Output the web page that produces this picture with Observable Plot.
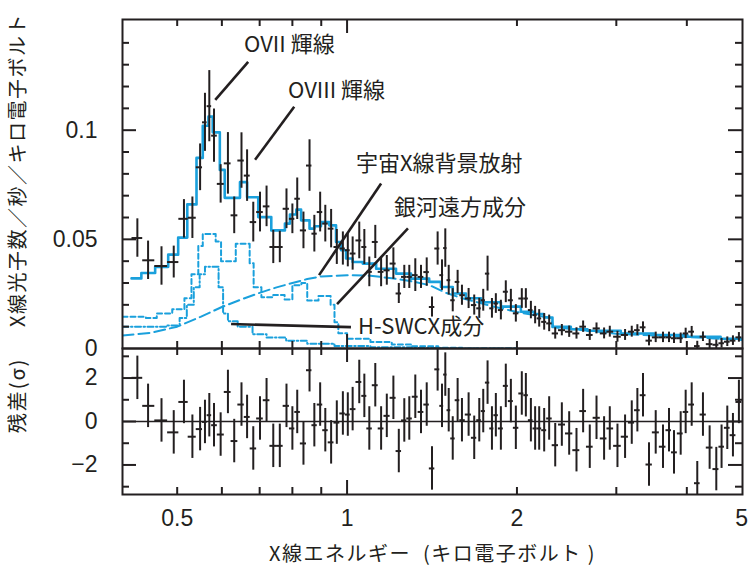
<!DOCTYPE html>
<html><head><meta charset="utf-8">
<script src="https://cdn.jsdelivr.net/npm/d3@7"></script>
<script src="https://cdn.jsdelivr.net/npm/@observablehq/plot@0.6"></script>
<style>
body{margin:0;background:#fff}
#chart{width:751px;height:573px;overflow:hidden;background:#fff}
#chart svg{display:block}
</style></head><body><div id="chart"></div>
<script>
// ---- Observed spectrum (keV, counts/s/keV) ----
const energy = [0.425,0.444,0.469,0.493,0.514,0.532,0.549,0.560,0.570,0.581,0.597,0.615,0.631,0.650,0.665,0.682,0.701,0.720,0.740,0.760,0.781,0.800,0.816,0.837,0.858,0.875,0.896,0.915,0.937,0.959,0.983,1.003,1.023,1.051,1.073,1.095,1.122,1.149,1.176,1.208,1.235,1.263,1.289,1.321,1.352,1.384,1.414,
1.447,1.473,1.493,1.514,1.539,1.570,1.598,1.642,1.680,1.715,1.743,1.774,1.806,1.835,1.873,1.911,1.951,1.991,2.040,2.074,2.117,2.154,2.190,2.235,2.281,2.338,2.402,2.475,2.550,2.620,2.692,2.767,2.854,2.921,3.014,3.109,3.195,3.269,3.345,3.428,3.523,3.629,3.719,3.796,3.901,3.981,4.080,4.174,4.272,4.390,4.511,4.609,4.718,4.828,4.947];
const counts = [0.0506,0.0404,0.0378,0.0396,0.0594,0.0599,0.0830,0.1036,0.1110,0.0975,0.0754,0.0848,0.0610,0.0861,0.0792,0.0579,0.0625,0.0651,0.0465,0.0465,0.0640,0.0594,0.0686,0.0541,0.0838,0.0526,0.0625,0.0572,0.0549,0.0465,0.0458,0.0450,0.0435,0.0495,0.0465,0.0351,0.0488,0.0351,0.0358,0.0389,0.0252,0.0328,0.0328,0.0336,0.0328,0.0350,0.0190,
0.0458,0.0336,0.0460,0.0313,0.0221,0.0305,0.0244,0.0229,0.0199,0.0184,0.0221,0.0343,0.0184,0.0206,0.0176,0.0260,0.0221,0.0161,0.0229,0.0229,0.0176,0.0153,0.0138,0.0122,0.0115,0.0069,0.0084,0.0077,0.0069,0.0100,0.0062,0.0092,0.0069,0.0077,0.0054,0.0062,0.0077,0.0084,0.0097,0.0036,0.0051,0.0051,0.0051,0.0047,0.0047,0.0069,0.0077,0.0011,0.0054,0.0020,0.0017,0.0024,0.0031,0.0036,0.0051];
const countErr = [0.0088,0.0088,0.0088,0.0073,0.0088,0.0095,0.0107,0.0133,0.0163,0.0122,0.0088,0.0141,0.0084,0.0127,0.0118,0.0091,0.0091,0.0093,0.0076,0.0072,0.0091,0.0068,0.0095,0.0084,0.0118,0.0084,0.0091,0.0084,0.0088,0.0080,0.0076,0.0076,0.0076,0.0084,0.0080,0.0068,0.0076,0.0068,0.0068,0.0072,0.0046,0.0053,0.0053,0.0075,0.0053,0.0065,0.0046,
0.0076,0.0070,0.0088,0.0068,0.0053,0.0053,0.0046,0.0046,0.0046,0.0046,0.0050,0.0080,0.0045,0.0045,0.0045,0.0050,0.0050,0.0040,0.0045,0.0045,0.0040,0.0040,0.0040,0.0038,0.0038,0.0026,0.0026,0.0026,0.0026,0.0026,0.0025,0.0025,0.0025,0.0025,0.0025,0.0025,0.0025,0.0025,0.0025,0.0024,0.0024,0.0024,0.0024,0.0024,0.0024,0.0024,0.0024,0.0022,0.0022,0.0022,0.0022,0.0022,0.0022,0.0022,0.0022];
const residual = [2.01,0.72,0.05,-0.50,0.90,-0.70,-0.35,-0.02,0.29,-0.17,-0.60,1.36,-0.90,0.78,0.21,-1.24,0.14,0.98,-1.12,-1.12,0.72,-0.32,0.44,-1.01,2.36,-0.17,0.78,-0.40,-0.96,-0.05,0.37,0.32,0.57,1.82,1.18,-0.32,1.67,-0.32,0.26,1.09,-1.36,0.05,0.14,1.14,0.44,0.78,-2.16,
2.40,0.72,2.16,0.52,-0.78,0.98,0.06,0.32,-0.75,0.06,0.48,1.79,-0.32,0.29,-0.32,1.64,0.94,-0.29,1.29,1.21,0.06,-0.32,-0.32,-0.40,0.14,-1.09,-0.14,-0.55,-1.32,0.48,-1.16,0.17,-0.78,-0.32,-1.12,-0.70,-0.05,0.52,1.21,-1.98,-0.50,-1.16,-0.40,-1.42,-0.55,0.44,0.78,-2.84,0.32,-1.20,-2.19,-1.16,-0.29,-0.63,0.90];
const residualErr = 1; // residuals are in units of sigma

// ---- Best-fit total model (histogram) ----
const modelE = [0.415,0.432,0.457,0.482,0.502,0.521,0.541,0.555,0.568,0.578,0.595,0.607,0.646,0.665,0.696,0.734,0.776,0.792,0.813,0.829,0.858,0.875,0.899,0.930,0.956,0.976,0.996,1.023,1.066,1.126,1.221,1.298,1.398,1.467,1.539,1.624,1.727,1.873,2.032,2.146,2.232,2.312,2.492,2.667,3.055,3.499,4.009,4.591,5.02];
const modelY = [0.0321,0.0346,0.0374,0.0430,0.0508,0.0660,0.0873,0.1020,0.1062,0.0990,0.0818,0.0690,0.0762,0.0693,0.0602,0.0541,0.0572,0.0614,0.0636,0.0587,0.0549,0.0560,0.0579,0.0564,0.0488,0.0450,0.0412,0.0396,0.0389,0.0365,0.0343,0.0320,0.0305,0.0282,0.0252,0.0230,0.0212,0.0192,0.0168,0.0158,0.0142,0.0099,0.0088,0.0081,0.0069,0.0062,0.0054,0.0045,0.0039];

// ---- Model components ----
const cxbE = [0.40,0.45,0.50,0.55,0.60,0.65,0.70,0.75,0.80,0.85,0.90,1.00,1.10,1.20,1.30,1.40,1.50,1.60,1.80,2.00,2.30,2.32,2.60,3.00,4.00,5.02];
const cxbY = [0.0060,0.0072,0.0100,0.0145,0.0190,0.0225,0.0255,0.0280,0.0300,0.0318,0.0330,0.0336,0.0333,0.0322,0.0308,0.0290,0.0254,0.0230,0.0195,0.0167,0.0140,0.0098,0.0085,0.0068,0.0053,0.0039];
const galE = [0.400,0.440,0.460,0.490,0.515,0.530,0.545,0.555,0.585,0.598,0.635,0.672,0.683,0.705,0.740,0.775,0.800,0.830,0.850,0.890,0.935,0.950,0.965,1.000,1.100,1.200,1.300,1.450,1.600,2.0];
const galY = [0.0145,0.0140,0.0160,0.0180,0.0230,0.0340,0.0470,0.0525,0.0490,0.0400,0.0480,0.0390,0.0280,0.0235,0.0245,0.0225,0.0290,0.0300,0.0220,0.0240,0.0200,0.0120,0.0070,0.0045,0.0030,0.0018,0.0010,0.0004,0.0000,0.0000];
const swcxE = [0.400,0.480,0.505,0.520,0.535,0.548,0.560,0.592,0.603,0.615,0.640,0.680,0.720,0.780,0.850,0.950,1.100,1.300,1.500,2.0];
const swcxY = [0.0100,0.0105,0.0140,0.0200,0.0280,0.0340,0.0375,0.0280,0.0160,0.0125,0.0100,0.0065,0.0050,0.0035,0.0022,0.0012,0.0006,0.0002,0.0000,0.0000];

// ---- Annotations (data coordinates) ----
const annoText = ["OVII 輝線","OVIII 輝線","宇宙X線背景放射","銀河遠方成分","H-SWCX成分"];
const annoE = [0.657,0.786,1.037,1.211,1.046];
const annoY = [0.139,0.118,0.0847,0.0642,0.0098];
const ptrE1 = [0.668,0.806,1.149,1.282,0.623];
const ptrY1 = [0.1313,0.1107,0.0756,0.0550,0.0112];
const ptrE2 = [0.584,0.687,0.892,0.960,1.016];
const ptrY2 = [0.1139,0.0865,0.0336,0.0203,0.0098];

// ---- Axes ----
const xTickLabels = [0.5,1,2,5];
const xMinorTicks = [0.5,0.6,0.7,0.8,0.9,2,3,4];
const xMajorTicks = [1];
const yTickLabels = [0,0.05,0.1];
const yMinorTicks = [0.01,0.02,0.03,0.04,0.06,0.07,0.08,0.09,0.11,0.12,0.13,0.14];
const yMajorTicks = [0.05,0.1];
const rTickLabels = [-2,0,2];
const rMinorTicks = [-3,-1,1,3];
const rMajorTicks = [-2,0,2];
const yTitle = "X線光子数／秒／キロ電子ボルト";
const rTitle = "残差(σ)";
const xTitle = "X線エネルギー  (キロ電子ボルト )";

// ---- Layout ----
const W = 751, ML = 122, MR = 9;
const FW = W - ML - MR;
const X_DOMAIN = [0.4, 5.02];
const TOP_MT = 19, TOP_FH = 329;
const BOT_FH = 146, BOT_MB = 79;
const BLUE = "#1aa0dc", INK = "#231f20";
const NUMFONT = "'Liberation Sans', Arial, sans-serif";
const JPFONT = "'Noto Sans CJK JP', 'Noto Sans', sans-serif";

// bins: geometric midpoints between neighbouring channel centres
const rows = energy.map((e, i) => {
  const prev = i > 0 ? energy[i-1] : e * e / energy[i+1];
  const next = i < energy.length - 1 ? energy[i+1] : e * e / energy[i-1];
  return {e, lo: Math.sqrt(prev * e), hi: Math.sqrt(e * next), y: counts[i], err: countErr[i], r: residual[i]};
});
const pts = (xs, ys) => xs.map((x, i) => ({x, y: ys[i]}));

function edgeTicks(xMinor, xMajor, yMinor, yMajor, fh) {
  const s = {stroke: INK, strokeWidth: 2};
  return [
    Plot.ruleX(xMinor, {x: d => d, insetBottom: fh - 7, ...s}),
    Plot.ruleX(xMajor, {x: d => d, insetBottom: fh - 14, ...s}),
    Plot.ruleX(xMinor, {x: d => d, insetTop: fh - 7, ...s}),
    Plot.ruleX(xMajor, {x: d => d, insetTop: fh - 14, ...s}),
    Plot.ruleY(yMinor, {y: d => d, insetRight: FW - 7, ...s}),
    Plot.ruleY(yMajor, {y: d => d, insetRight: FW - 14, ...s}),
    Plot.ruleY(yMinor, {y: d => d, insetLeft: FW - 7, ...s}),
    Plot.ruleY(yMajor, {y: d => d, insetLeft: FW - 14, ...s})
  ];
}

const topPlot = Plot.plot({
  width: W, height: TOP_MT + TOP_FH, marginTop: TOP_MT, marginBottom: 0, marginLeft: ML, marginRight: MR,
  x: {type: "log", domain: X_DOMAIN, axis: null},
  y: {domain: [0, 0.1507], axis: null},
  style: {fontFamily: NUMFONT, color: INK, background: "white", overflow: "visible"},
  marks: [
    Plot.line(pts(cxbE, cxbY), {x: "x", y: "y", stroke: BLUE, strokeWidth: 2, strokeDasharray: "11,5", clip: true}),
    Plot.line(pts(galE, galY), {x: "x", y: "y", stroke: BLUE, strokeWidth: 2, strokeDasharray: "5,3", curve: "step-after", clip: true}),
    Plot.line(pts(swcxE, swcxY), {x: "x", y: "y", stroke: BLUE, strokeWidth: 2, strokeDasharray: "6,2.5,1.5,2.5", curve: "step-after", clip: true}),
    Plot.line(pts(modelE, modelY), {x: "x", y: "y", stroke: BLUE, strokeWidth: 2.6, curve: "step-after", clip: true}),
    Plot.ruleX(rows, {x: "e", y1: d => d.y - d.err, y2: d => d.y + d.err, stroke: INK, strokeWidth: 2, clip: true}),
    Plot.ruleY(rows, {y: "y", x1: "lo", x2: "hi", stroke: INK, strokeWidth: 2, clip: true}),
    ...edgeTicks(xMinorTicks, xMajorTicks, yMinorTicks, yMajorTicks, TOP_FH),
    Plot.frame({stroke: INK, strokeWidth: 2}),
    Plot.axisY({ticks: yTickLabels, tickSize: 0, tickPadding: 25, fontSize: 23, tickFormat: d => String(d), label: null}),
    Plot.link(annoText, {x1: (d, i) => ptrE1[i], y1: (d, i) => ptrY1[i], x2: (d, i) => ptrE2[i], y2: (d, i) => ptrY2[i], stroke: INK, strokeWidth: 2.6}),
    Plot.text(annoText, {x: (d, i) => annoE[i], y: (d, i) => annoY[i], text: d => d, textAnchor: "start", fontSize: 22, fontFamily: JPFONT, fill: INK}),
    Plot.text([yTitle], {text: d => d, frameAnchor: "left", textAnchor: "middle", dx: -104, dy: -14, rotate: -90, fontSize: 20, fontFamily: JPFONT, fill: INK})
  ]
});

const bottomPlot = Plot.plot({
  width: W, height: BOT_FH + BOT_MB, marginTop: 0, marginBottom: BOT_MB, marginLeft: ML, marginRight: MR,
  x: {type: "log", domain: X_DOMAIN, axis: null},
  y: {domain: [-3.36, 3.36], axis: null},
  style: {fontFamily: NUMFONT, color: INK, background: "white", overflow: "visible"},
  marks: [
    Plot.ruleY([0], {stroke: INK, strokeWidth: 1.5}),
    Plot.ruleX(rows, {x: "e", y1: d => d.r - residualErr, y2: d => d.r + residualErr, stroke: INK, strokeWidth: 2, clip: true}),
    Plot.ruleY(rows, {y: "r", x1: "lo", x2: "hi", stroke: INK, strokeWidth: 2, clip: true}),
    ...edgeTicks(xMinorTicks, xMajorTicks, rMinorTicks, rMajorTicks, BOT_FH),
    Plot.frame({stroke: INK, strokeWidth: 2}),
    Plot.axisY({ticks: rTickLabels, tickSize: 0, tickPadding: 25, fontSize: 23, tickFormat: d => d < 0 ? "\u2212" + Math.abs(d) : String(d), label: null}),
    Plot.axisX({ticks: xTickLabels, tickSize: 0, tickPadding: 15, fontSize: 23, tickFormat: d => String(d), label: null}),
    Plot.text([rTitle], {text: d => d, frameAnchor: "left", textAnchor: "middle", dx: -104, dy: -26, rotate: -90, fontSize: 20, fontFamily: JPFONT, fill: INK}),
    Plot.text([xTitle], {text: d => d, frameAnchor: "bottom", textAnchor: "middle", dy: 66, fontSize: 20, fontFamily: JPFONT, fill: INK})
  ]
});

const root = document.getElementById("chart");
root.appendChild(topPlot);
root.appendChild(bottomPlot);
// typographic spacing of the titles
d3.selectAll("#chart text").filter(function(){ return this.textContent === yTitle; }).attr("letter-spacing", 1.5);
d3.selectAll("#chart text").filter(function(){ return this.textContent === rTitle; }).attr("letter-spacing", 2);
d3.selectAll("#chart text").filter(function(){ return this.textContent === xTitle; }).attr("letter-spacing", 1.5);
</script></body></html>
